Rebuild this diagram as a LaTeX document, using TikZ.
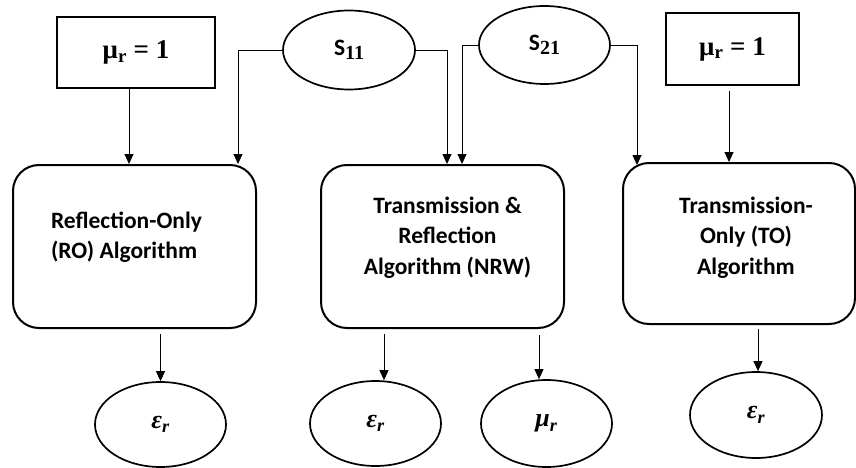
\documentclass[tikz,border=0pt]{standalone}
\usepackage{fontspec}
\setmainfont{Carlito}
\newfontfamily\eqfont{Liberation Serif}
\usetikzlibrary{shapes.geometric,arrows.meta,calc}

\tikzset{
  every node/.style={font=\fontsize{23.5}{30.5}\selectfont\bfseries},
  given/.style={draw, line width=2pt, rectangle, inner sep=0pt},
  sparam/.style={draw, line width=1.7pt, ellipse, inner sep=0pt,
    minimum width=132pt, minimum height=79pt},
  algo/.style={draw, line width=2pt, rectangle, rounded corners=26pt, inner sep=0pt},
  result/.style={draw, line width=1.7pt, ellipse, inner sep=0pt,
    minimum width=131pt, minimum height=85pt,
    font=\eqfont\fontsize{26}{28}\selectfont\bfseries\itshape},
  caption/.style={inner sep=0pt, align=center},
  arr/.style={line width=0.9pt, -{Triangle[length=10pt,width=9pt]}},
}

\newcommand{\murone}{{\eqfont\fontsize{27}{30}\selectfont\bfseries μ\textsubscript{r} = 1}}
\newcommand{\sparamtext}[1]{S{\eqfont\fontsize{20}{22}\selectfont\bfseries\raisebox{-3.5pt}{#1}}}
\newcommand{\quantity}[1]{#1\raisebox{-1pt}{\textsubscript{r}}}

\begin{document}
\begin{tikzpicture}[x=1pt, y=-1pt]
  \useasboundingbox (0,0) rectangle (856,468);

  % inputs
  \node[given, minimum width=158pt, minimum height=71pt] (mu1) at (136,52.5) {\murone};
  \node[sparam] (s11) at (349,50) {\sparamtext{11}};
  \node[sparam, minimum width=131pt, minimum height=78pt] (s21) at (544.5,45) {\sparamtext{21}};
  \node[given, minimum width=133pt, minimum height=72pt] (mu2) at (732.5,49) {\murone};

  % algorithms
  \node[algo, minimum width=243pt, minimum height=163pt] (ro) at (134.5,246.5) {};
  \node[algo, minimum width=243pt, minimum height=163pt] (nrw) at (442.5,246.5) {};
  \node[algo, minimum width=232pt, minimum height=161pt] (to) at (739,243.5) {};

  \node[caption, align=left] (rotext) at ([xshift=-8pt, yshift=9.5pt]ro.center)
    {Reflection-Only\\(RO) Algorithm};
  \node[caption] (nrwtext) at ([xshift=5pt, yshift=9pt]nrw.center)
    {Transmission \&\\Reflection\\Algorithm (NRW)};
  \node[caption] (totext) at ([xshift=7pt, yshift=6pt]to.center)
    {Transmission-\\Only (TO)\\Algorithm};

  % outputs
  \node[result] (e1) at (160.5,424.5) {\quantity{ε}};
  \node[result] (e2) at (375.5,423.5) {\quantity{ε}};
  \node[result, minimum height=87pt] (mu3) at (546.5,423.5) {\quantity{μ}};
  \node[result, minimum width=132pt, minimum height=86pt] (e3) at (756,415) {\quantity{ε}};

  % input connectors
  \draw[arr] ([xshift=-7pt]mu1.south) -- ([xshift=-7pt]mu1.south |- ro.north);
  \draw[arr] (s11.west) -| ([xshift=-19pt]ro.north east);
  \draw[arr] (s11.east) -| ([xshift=4.5pt]nrw.north);
  \draw[arr] (s21.west) -| ([xshift=19.5pt]nrw.north);
  \draw[arr] (s21.east) -| ([yshift=-3pt]to.north -| 637,0);
  \draw[arr] ([xshift=-3.5pt,yshift=-5pt]mu2.south) -- ([xshift=-3.5pt]mu2.south |- to.north);

  % output connectors
  \draw[arr] ([yshift=-5pt]ro.south -| e1.north) -- (e1.north);
  \draw[arr] ([yshift=-5pt]nrw.south -| 384,0) -- (e2.north -| 384,0);
  \draw[arr] ([yshift=-6pt]nrw.south -| 539,0) -- (mu3.north -| 539,0);
  \draw[arr] ([yshift=-4pt]to.south -| 758,0) -- (e3.north -| 758,0);
\end{tikzpicture}
\end{document}
